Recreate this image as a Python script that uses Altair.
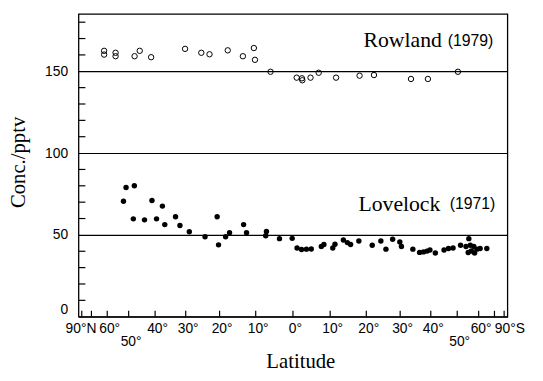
import math
import altair as alt
import pandas as pd

# ---- data (latitude: degrees, north positive; concentration: pptv) ----
rowland_lat = [61.7, 61.7, 55.8, 55.8, 47.6, 45.6, 41.4, 30.2, 25.3, 22.9, 17.7, 13.5, 10.5,
               10.2, 6.0, -1.0, -2.4, -2.5, -4.7, -6.9, -11.6, -18.1, -22.2, -33.4, -39.0, -50.3]
rowland_conc = [162.5, 160.2, 161.3, 159.2, 159.2, 162.5, 158.6, 163.7, 161.3, 160.4, 162.8, 159.2, 164.2,
                157.0, 149.7, 146.1, 145.7, 144.5, 146.1, 149.1, 146.1, 147.3, 147.7, 145.3, 145.3, 149.7]

lovelock_lat = [52.2, 51.1, 47.7, 48.1, 43.8, 41.1, 39.5, 37.5, 36.7, 33.2, 31.8, 28.9, 24.2, 20.7,
                20.3, 18.3, 17.2, 13.3, 12.5, 7.1, 7.3, 3.6, 0.2, -1.1, -2.3, -3.6, -4.9, -7.6,
                -8.3, -10.7, -11.3, -13.6, -14.7, -15.6, -17.9, -21.7, -24.2, -25.7, -27.7, -29.9,
                -30.4, -34.0, -36.2, -37.5, -38.7, -39.7, -41.6, -44.8, -46.5, -48.3, -51.4, -55.1,
                -53.8, -55.8, -57.5, -56.3, -54.8, -57.9, -59.1, -60.8, -64.7]
lovelock_conc = [70.6, 79.0, 80.0, 59.8, 59.2, 71.0, 59.8, 67.6, 56.3, 61.1, 55.7, 51.9, 48.9, 61.1,
                 43.9, 48.9, 51.3, 56.3, 51.3, 52.1, 49.5, 47.7, 47.9, 42.0, 41.1, 41.3, 41.4, 42.9,
                 44.1, 42.0, 44.3, 46.9, 45.3, 44.1, 46.3, 43.7, 46.3, 41.3, 47.3, 45.7,
                 42.9, 41.3, 39.3, 39.6, 40.1, 40.8, 38.9, 40.8, 41.7, 42.0, 43.7, 47.7,
                 42.9, 43.7, 42.9, 40.2, 39.2, 38.9, 41.3, 41.7, 41.7]

label_lats = [90, 60, 50, 40, 30, 20, 10, 0, -10, -20, -30, -40, -50, -60, -90]
tick_lats = [80, 70, 60, 50, 40, 30, 20, 10, 0, -10, -20, -30, -40, -50, -60, -70, -80]
y_major = [0, 50, 100, 150]
y_minor = [10, 20, 30, 40, 60, 70, 80, 90, 110, 120, 130, 140, 160, 170, 180]

SANS = "Liberation Sans"
SERIF = "Liberation Serif"
W, H = 435, 307
NB = "\u00a0"

x_values = [-math.sin(math.radians(v)) for v in label_lats]
label_expr = (
    "abs(datum.value) > 0.999 ? (datum.value < 0 ? '90°N" + NB * 4 + "' : '" + NB * 4 + "90°S') : "
    "(abs(round(asin(clamp(datum.value,-1,1))*180/PI)) == 50 ? ['', '50°'] : "
    "abs(round(asin(clamp(datum.value,-1,1))*180/PI)) + '°')"
)

xscale = alt.Scale(domain=[-1, 1], nice=False, zero=False)
yscale = alt.Scale(domain=[0, 185], nice=False, zero=False)

xaxis = alt.Axis(
    values=x_values, labelExpr=label_expr, ticks=False, domain=False, grid=False,
    labelFont=SANS, labelFontSize=14, labelColor="black", labelPadding=5, labelOffset=2,
    labelFlush=False, labelOverlap=False, labelLineHeight=13,
    title="Latitude", titleFont=SERIF, titleFontSize=21, titleFontWeight="normal",
    titleColor="black", titleX=225, titleY=52, titleBaseline="alphabetic",
)
yaxis = alt.Axis(
    values=y_major, ticks=False, domain=False, grid=True, gridColor="black", gridWidth=1.2,
    labelFont=SANS, labelFontSize=14, labelColor="black", labelPadding=11,
    labelFlush=True, labelOverlap=False,
    title="Conc./pptv", titleFont=SERIF, titleFontSize=21, titleFontWeight="normal",
    titleColor="black", titleX=-61, titleY=150, titleBaseline="middle",
)

calc = "-sin(datum.lat*PI/180)"

row_df = pd.DataFrame({"lat": rowland_lat, "conc": rowland_conc})
lov_df = pd.DataFrame({"lat": lovelock_lat, "conc": lovelock_conc})

X = alt.X("sx:Q", scale=xscale, axis=xaxis)
Y = alt.Y("conc:Q", scale=yscale, axis=yaxis)

rowland = alt.Chart(row_df).transform_calculate(sx=calc).mark_point(
    shape="circle", filled=False, color="black", size=30, strokeWidth=1, opacity=1
).encode(x=X, y=Y)

lovelock = alt.Chart(lov_df).transform_calculate(sx=calc).mark_circle(
    color="black", size=30, opacity=1
).encode(x=X, y=Y)

xt = alt.Chart(pd.DataFrame({"lat": tick_lats})).transform_calculate(sx=calc).mark_rule(
    color="black", strokeWidth=1.2
).encode(x=X, y=alt.value(H - 6), y2=alt.value(H))

yt = alt.Chart(pd.DataFrame({"conc": y_minor})).mark_rule(color="black", strokeWidth=1.2).encode(
    y=Y, x=alt.value(0), x2=alt.value(7),
)

def label(txt, x, y, font, size, align):
    return alt.Chart(pd.DataFrame({"t": [txt]})).mark_text(
        font=font, fontSize=size, align=align, baseline="alphabetic", color="black"
    ).encode(text="t:N", x=alt.value(x), y=alt.value(y))

texts = [
    label("Rowland", 368.5, 33, SERIF, 22, "right"),
    label("(1979)", 374.5, 32, SANS, 16, "left"),
    label("Lovelock", 367, 199.5, SERIF, 22, "right"),
    label("(1971)", 376.5, 198, SANS, 16, "left"),
]

chart = alt.layer(rowland, lovelock, xt, yt, *texts).properties(
    width=W, height=H,
    padding={"left": 71.5, "top": 3.5, "right": 28, "bottom": 54},
    autosize=alt.AutoSizeParams(type="none"),
    background="white",
).configure_view(stroke="black", strokeWidth=1.3)

chart.save("out.html", embed_options={"renderer": "svg", "actions": False})
